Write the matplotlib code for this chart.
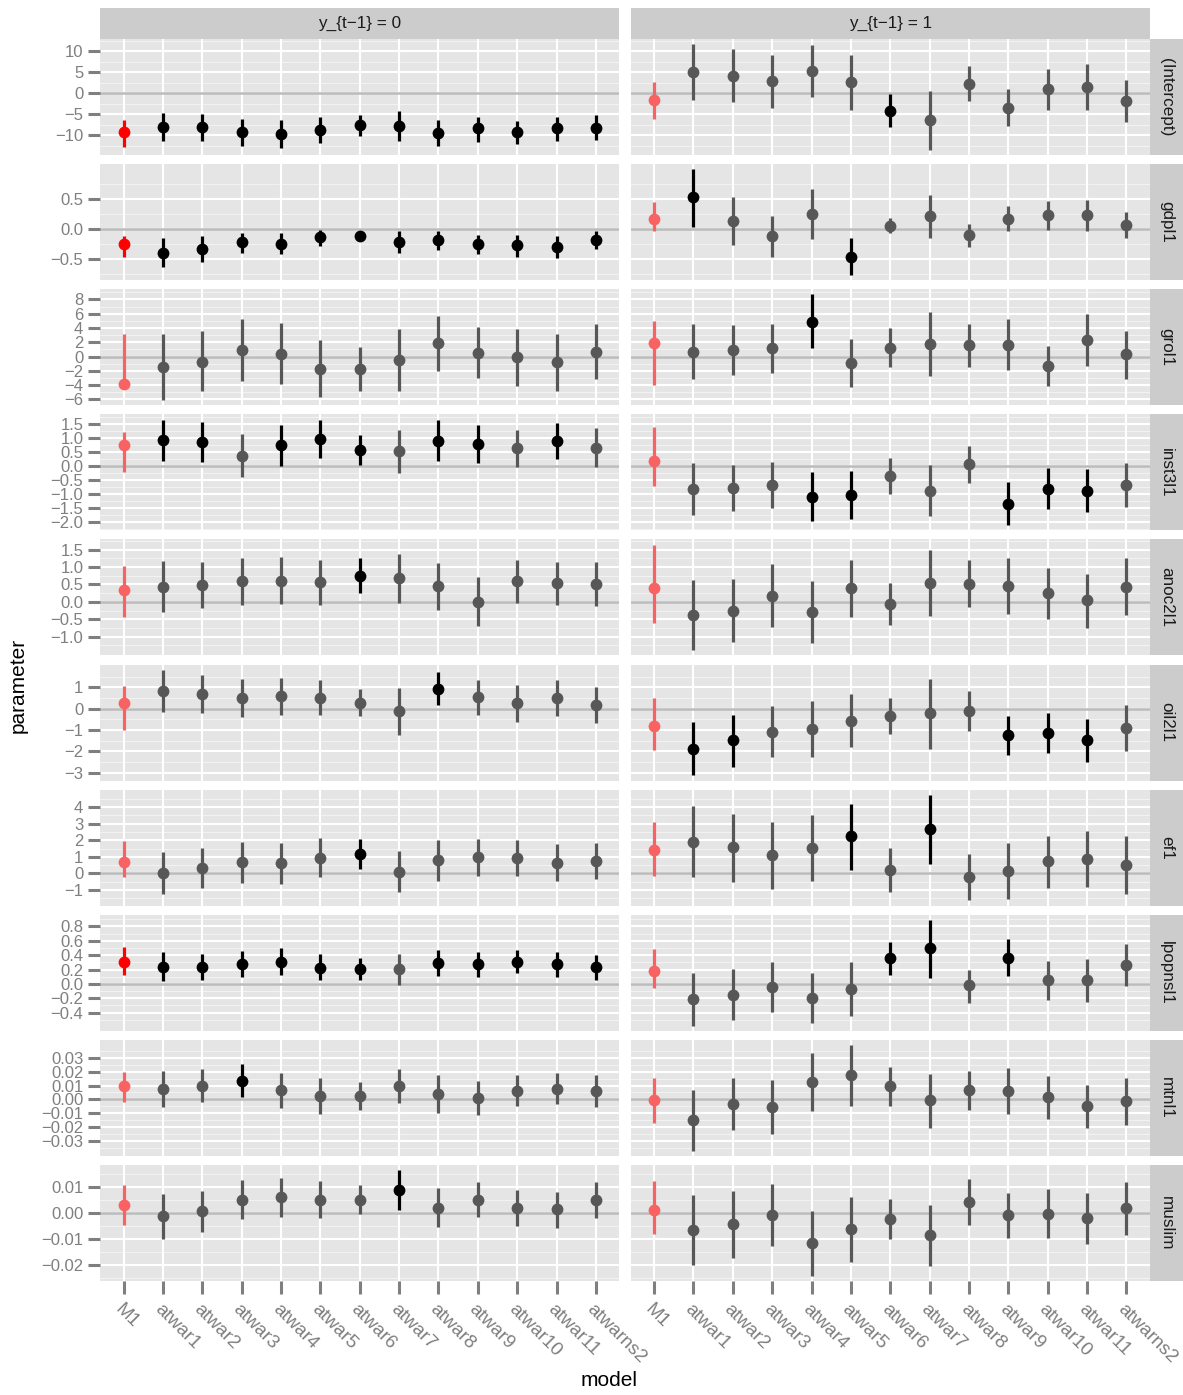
import numpy as np
import matplotlib.pyplot as plt
from matplotlib.patches import Rectangle

plt.rcParams['font.family'] = ['Liberation Sans', 'DejaVu Sans']

models = ['M1', 'atwar1', 'atwar2', 'atwar3', 'atwar4', 'atwar5', 'atwar6',
          'atwar7', 'atwar8', 'atwar9', 'atwar10', 'atwar11', 'atwarns2']
facet_labels = ['y_{t\u22121} = 0', 'y_{t\u22121} = 1']

# (Intercept)
int0_est = [-9.3, -8.1, -8.1, -9.3, -9.8, -8.7, -7.6, -7.8, -9.6, -8.4, -9.3, -8.4, -8.2]
int0_lo = [-12.8, -11.5, -11.3, -12.7, -13.0, -11.8, -10.3, -11.4, -12.7, -11.6, -12.1, -11.4, -11.2]
int0_hi = [-6.4, -4.6, -5.0, -6.2, -6.5, -5.6, -5.2, -4.3, -6.4, -5.6, -6.6, -5.6, -5.3]
int1_est = [-1.5, 5.1, 4.1, 3.0, 5.3, 2.6, -4.2, -6.5, 2.2, -3.4, 1.0, 1.5, -1.9]
int1_lo = [-6.2, -1.6, -2.1, -3.4, -1.0, -3.9, -8.1, -13.5, -1.9, -7.8, -3.9, -3.9, -6.9]
int1_hi = [2.6, 11.7, 10.5, 9.1, 11.5, 9.1, -0.2, 0.6, 6.5, 1.0, 5.9, 6.9, 3.1]

# gdpl1
gdp0_est = [-0.25, -0.39, -0.33, -0.22, -0.24, -0.13, -0.12, -0.21, -0.18, -0.25, -0.27, -0.30, -0.18]
gdp0_lo = [-0.47, -0.63, -0.54, -0.39, -0.42, -0.28, -0.19, -0.40, -0.34, -0.41, -0.46, -0.48, -0.33]
gdp0_hi = [-0.12, -0.15, -0.12, -0.06, -0.06, -0.01, -0.06, -0.03, -0.03, -0.09, -0.10, -0.12, -0.04]
gdp1_est = [0.17, 0.53, 0.14, -0.11, 0.25, -0.46, 0.05, 0.21, -0.10, 0.17, 0.23, 0.23, 0.06]
gdp1_lo = [-0.03, 0.04, -0.26, -0.47, -0.17, -0.76, -0.07, -0.14, -0.30, -0.04, -0.02, -0.03, -0.15]
gdp1_hi = [0.45, 0.99, 0.53, 0.22, 0.67, -0.15, 0.18, 0.56, 0.08, 0.38, 0.47, 0.49, 0.28]

# grol1
gro0_est = [-3.8, -1.4, -0.7, 0.85, 0.4, -1.7, -1.8, -0.5, 1.9, 0.5, -0.1, -0.8, 0.7]
gro0_lo = [-4.0, -6.1, -4.9, -3.4, -3.8, -5.7, -4.9, -4.9, -2.0, -3.0, -4.1, -4.8, -3.1]
gro0_hi = [3.1, 3.2, 3.6, 5.2, 4.7, 2.3, 1.4, 3.9, 5.7, 4.1, 3.8, 3.1, 4.6]
gro1_est = [1.9, 0.7, 0.9, 1.2, 4.9, -0.85, 1.2, 1.7, 1.6, 1.6, -1.3, 2.3, 0.3]
gro1_lo = [-4.0, -3.2, -2.6, -2.3, 1.2, -4.3, -1.5, -2.7, -1.4, -1.9, -4.1, -1.3, -3.1]
gro1_hi = [5.0, 4.6, 4.4, 4.6, 8.7, 2.5, 4.0, 6.2, 4.6, 5.2, 1.5, 5.9, 3.6]

# inst3l1
ins0_est = [0.74, 0.92, 0.84, 0.36, 0.74, 0.96, 0.56, 0.54, 0.90, 0.78, 0.65, 0.90, 0.65]
ins0_lo = [-0.22, 0.18, 0.14, -0.40, 0.01, 0.30, 0.02, -0.24, 0.18, 0.10, -0.04, 0.25, -0.04]
ins0_hi = [1.22, 1.65, 1.56, 1.14, 1.44, 1.62, 1.11, 1.29, 1.62, 1.44, 1.29, 1.52, 1.34]
ins1_est = [0.18, -0.80, -0.77, -0.67, -1.09, -1.02, -0.36, -0.87, 0.06, -1.34, -0.80, -0.87, -0.68]
ins1_lo = [-0.72, -1.74, -1.59, -1.50, -1.95, -1.88, -0.99, -1.77, -0.61, -2.10, -1.52, -1.62, -1.47]
ins1_hi = [1.38, 0.10, 0.04, 0.16, -0.22, -0.16, 0.28, 0.02, 0.72, -0.56, -0.08, -0.12, 0.10]

# anoc2l1
ano0_est = [0.34, 0.43, 0.47, 0.59, 0.60, 0.56, 0.75, 0.68, 0.44, -0.01, 0.60, 0.53, 0.52]
ano0_lo = [-0.43, -0.29, -0.19, -0.09, -0.07, -0.09, 0.26, -0.03, -0.23, -0.69, -0.03, -0.09, -0.11]
ano0_hi = [1.02, 1.17, 1.15, 1.27, 1.29, 1.21, 1.25, 1.36, 1.12, 0.70, 1.21, 1.15, 1.15]
ano1_est = [0.40, -0.38, -0.25, 0.17, -0.29, 0.39, -0.06, 0.54, 0.52, 0.45, 0.25, 0.04, 0.43]
ano1_lo = [-0.60, -1.39, -1.16, -0.73, -1.19, -0.43, -0.67, -0.41, -0.16, -0.36, -0.49, -0.75, -0.39]
ano1_hi = [1.64, 0.63, 0.65, 1.08, 0.60, 1.19, 0.54, 1.50, 1.21, 1.27, 0.98, 0.80, 1.25]

# oil2l1
oil0_est = [0.27, 0.85, 0.70, 0.49, 0.58, 0.51, 0.27, -0.13, 0.93, 0.54, 0.25, 0.49, 0.17]
oil0_lo = [-1.0, -0.14, -0.21, -0.41, -0.30, -0.30, -0.36, -1.23, 0.17, -0.28, -0.62, -0.35, -0.68]
oil0_hi = [1.06, 1.83, 1.60, 1.39, 1.45, 1.33, 0.92, 0.98, 1.72, 1.33, 1.12, 1.33, 1.04]
oil1_est = [-0.79, -1.88, -1.49, -1.08, -0.96, -0.57, -0.33, -0.22, -0.09, -1.25, -1.15, -1.49, -0.90]
oil1_lo = [-1.96, -3.13, -2.72, -2.28, -2.28, -1.80, -1.17, -1.87, -1.04, -2.18, -2.10, -2.50, -1.99]
oil1_hi = [0.51, -0.62, -0.30, 0.11, 0.36, 0.68, 0.49, 1.42, 0.85, -0.35, -0.21, -0.46, 0.16]

# ef1
ef0_est = [0.69, 0.04, 0.32, 0.69, 0.61, 0.93, 1.17, 0.12, 0.81, 0.97, 0.95, 0.65, 0.75]
ef0_lo = [-0.22, -1.25, -0.89, -0.55, -0.61, -0.24, 0.26, -1.13, -0.44, -0.14, -0.14, -0.44, -0.36]
ef0_hi = [1.96, 1.31, 1.52, 1.92, 1.82, 2.12, 2.06, 1.35, 2.00, 2.06, 2.02, 1.76, 1.82]
ef1_est = [1.43, 1.88, 1.58, 1.09, 1.52, 2.26, 0.20, 2.69, -0.22, 0.14, 0.75, 0.87, 0.51]
ef1_lo = [-0.16, -0.24, -0.51, -0.91, -0.48, 0.24, -1.11, 0.55, -1.62, -1.56, -0.85, -0.79, -1.25]
ef1_hi = [3.11, 4.04, 3.60, 3.07, 3.49, 4.18, 1.52, 4.73, 1.15, 1.82, 2.28, 2.53, 2.26]

# lpopnsl1
pop0_est = [0.31, 0.24, 0.24, 0.28, 0.31, 0.22, 0.21, 0.21, 0.29, 0.27, 0.31, 0.27, 0.24]
pop0_lo = [0.13, 0.04, 0.05, 0.09, 0.12, 0.05, 0.06, -0.01, 0.11, 0.09, 0.15, 0.10, 0.06]
pop0_hi = [0.51, 0.44, 0.42, 0.46, 0.50, 0.41, 0.36, 0.42, 0.47, 0.45, 0.47, 0.44, 0.40]
pop1_est = [0.18, -0.21, -0.15, -0.04, -0.20, -0.07, 0.36, 0.50, -0.02, 0.36, 0.06, 0.05, 0.26]
pop1_lo = [-0.06, -0.58, -0.50, -0.39, -0.55, -0.45, 0.13, 0.08, -0.27, 0.11, -0.22, -0.25, -0.03]
pop1_hi = [0.49, 0.15, 0.21, 0.31, 0.15, 0.31, 0.58, 0.89, 0.20, 0.62, 0.32, 0.35, 0.55]

# mtnl1
mtn0_est = [0.0096, 0.0073, 0.0100, 0.0135, 0.0066, 0.0024, 0.0024, 0.0098, 0.0042, 0.0010, 0.0061, 0.0078, 0.0059]
mtn0_lo = [-0.0022, -0.0056, -0.0022, 0.0015, -0.0064, -0.0105, -0.0076, -0.0027, -0.0096, -0.0113, -0.0051, -0.0032, -0.0059]
mtn0_hi = [0.0198, 0.0203, 0.0223, 0.0255, 0.0193, 0.0157, 0.0125, 0.0223, 0.0176, 0.0132, 0.0176, 0.0193, 0.0176]
mtn1_est = [-0.0005, -0.0152, -0.0034, -0.0056, 0.0125, 0.0174, 0.0096, -0.0007, 0.0066, 0.0064, 0.0015, -0.0051, -0.0015]
mtn1_lo = [-0.0174, -0.0372, -0.0223, -0.0252, -0.0088, -0.0047, -0.0047, -0.0206, -0.0078, -0.0105, -0.0144, -0.0208, -0.0186]
mtn1_hi = [0.0157, 0.0066, 0.0152, 0.0140, 0.0336, 0.0394, 0.0235, 0.0186, 0.0206, 0.0230, 0.0169, 0.0103, 0.0152]

# muslim
mus0_est = [0.0030, -0.0013, 0.0008, 0.0051, 0.0061, 0.0051, 0.0051, 0.0089, 0.0021, 0.0052, 0.0021, 0.0014, 0.0050]
mus0_lo = [-0.0046, -0.0102, -0.0072, -0.0025, -0.0014, -0.0021, -0.0005, 0.0012, -0.0056, -0.0014, -0.0050, -0.0057, -0.0020]
mus0_hi = [0.0107, 0.0072, 0.0085, 0.0128, 0.0137, 0.0124, 0.0107, 0.0166, 0.0096, 0.0119, 0.0090, 0.0083, 0.0119]
mus1_est = [0.0013, -0.0065, -0.0044, -0.0007, -0.0117, -0.0063, -0.0023, -0.0086, 0.0042, -0.0008, -0.0003, -0.0021, 0.0018]
mus1_lo = [-0.0082, -0.0202, -0.0173, -0.0128, -0.0243, -0.0189, -0.0102, -0.0205, -0.0047, -0.0098, -0.0098, -0.0119, -0.0085]
mus1_hi = [0.0124, 0.0070, 0.0085, 0.0113, 0.0007, 0.0064, 0.0053, 0.0033, 0.0130, 0.0078, 0.0093, 0.0078, 0.0121]

# y breaks per row
ticks_int = [-10, -5, 0, 5, 10]
ticks_gdp = [-0.5, 0.0, 0.5]
ticks_gro = [-6, -4, -2, 0, 2, 4, 6, 8]
ticks_ins = [-2.0, -1.5, -1.0, -0.5, 0.0, 0.5, 1.0, 1.5]
ticks_ano = [-1.0, -0.5, 0.0, 0.5, 1.0, 1.5]
ticks_oil = [-3, -2, -1, 0, 1]
ticks_ef = [-1, 0, 1, 2, 3, 4]
ticks_pop = [-0.4, -0.2, 0.0, 0.2, 0.4, 0.6, 0.8]
ticks_mtn = [-0.03, -0.02, -0.01, 0.0, 0.01, 0.02, 0.03]
ticks_mus = [-0.02, -0.01, 0.0, 0.01]

rows = [
    ('(Intercept)', (int0_est, int0_lo, int0_hi), (int1_est, int1_lo, int1_hi), ticks_int, 0),
    ('gdpl1', (gdp0_est, gdp0_lo, gdp0_hi), (gdp1_est, gdp1_lo, gdp1_hi), ticks_gdp, 1),
    ('grol1', (gro0_est, gro0_lo, gro0_hi), (gro1_est, gro1_lo, gro1_hi), ticks_gro, 0),
    ('inst3l1', (ins0_est, ins0_lo, ins0_hi), (ins1_est, ins1_lo, ins1_hi), ticks_ins, 1),
    ('anoc2l1', (ano0_est, ano0_lo, ano0_hi), (ano1_est, ano1_lo, ano1_hi), ticks_ano, 1),
    ('oil2l1', (oil0_est, oil0_lo, oil0_hi), (oil1_est, oil1_lo, oil1_hi), ticks_oil, 0),
    ('ef1', (ef0_est, ef0_lo, ef0_hi), (ef1_est, ef1_lo, ef1_hi), ticks_ef, 0),
    ('lpopnsl1', (pop0_est, pop0_lo, pop0_hi), (pop1_est, pop1_lo, pop1_hi), ticks_pop, 1),
    ('mtnl1', (mtn0_est, mtn0_lo, mtn0_hi), (mtn1_est, mtn1_lo, mtn1_hi), ticks_mtn, 2),
    ('muslim', (mus0_est, mus0_lo, mus0_hi), (mus1_est, mus1_lo, mus1_hi), ticks_mus, 2),
]

W, H = 1183, 1395
fig, axes = plt.subplots(len(rows), 2, figsize=(W / 100, H / 100), dpi=100,
                         gridspec_kw=dict(left=100 / W, right=1150 / W,
                                          top=1 - 39 / H, bottom=1 - 1281 / H,
                                          hspace=0.0776, wspace=0.0212))

x = np.arange(1, len(models) + 1)
grey_txt = '#7F7F7F'


def fmt(v, d):
    s = f'{abs(v):.{d}f}'
    return ('\u2212' + s) if v < 0 and float(s) != 0 else s


for r, (pname, f0, f1, ticks, dec) in enumerate(rows):
    lows = np.r_[f0[1], f1[1]]
    highs = np.r_[f0[2], f1[2]]
    span = highs.max() - lows.min()
    ylim = (lows.min() - 0.05 * span, highs.max() + 0.05 * span)
    step = ticks[1] - ticks[0]
    minor = np.arange(ticks[0] - step * 1.5, ticks[-1] + step * 2, step)

    for c, (est, lo, hi) in enumerate((f0, f1)):
        ax = axes[r, c]
        est, lo, hi = np.asarray(est), np.asarray(lo), np.asarray(hi)
        ax.set_facecolor('#E5E5E5')
        ax.set_xlim(0.4, len(models) + 0.6)
        ax.set_ylim(*ylim)
        for s in ax.spines.values():
            s.set_visible(False)

        for m in minor:
            if ylim[0] < m < ylim[1]:
                ax.axhline(m, color='#F2F2F2', lw=0.8, zorder=0.5)
        for t in ticks:
            ax.axhline(t, color='white', lw=1.5, zorder=0.6)
        for xi in x:
            ax.axvline(xi, color='white', lw=1.5, zorder=0.6)
        ax.axhline(0, color='#BBBBBB', lw=1.8, zorder=1)

        sig = (lo > 0) | (hi < 0)
        for i in range(len(models)):
            if i == 0:
                col = '#FF0000' if sig[i] else '#F86262'
            else:
                col = '#000000' if sig[i] else '#575757'
            ax.vlines(x[i], lo[i], hi[i], color=col, lw=2.3, zorder=2)
            ax.plot(x[i], est[i], 'o', color=col, ms=8.5, mec='none', zorder=3)

        ax.set_yticks(ticks)
        if c == 0:
            ax.set_yticklabels([fmt(t, dec) for t in ticks])
            ax.tick_params(axis='y', length=9, width=2.2, color=grey_txt,
                           labelcolor=grey_txt, labelsize=12, pad=3)
        else:
            ax.tick_params(axis='y', left=False, labelleft=False)

        ax.set_xticks(x)
        if r == len(rows) - 1:
            ax.set_xticklabels(models, rotation=-45, ha='left', va='top',
                               rotation_mode='anchor')
            ax.tick_params(axis='x', length=9.5, width=2.2, color=grey_txt,
                           labelcolor=grey_txt, labelsize=13.5, pad=5)
        else:
            ax.tick_params(axis='x', bottom=False, labelbottom=False)

        # facet strips
        if r == 0:
            sh = 31 / 116
            ax.add_patch(Rectangle((0, 1), 1, sh, transform=ax.transAxes,
                                   facecolor='#CCCCCC', edgecolor='none',
                                   clip_on=False))
            ax.text(0.5, 1 + sh / 2, facet_labels[c], transform=ax.transAxes,
                    ha='center', va='center', fontsize=12.3, color='#1A1A1A')
        if c == 1:
            sw = 33 / 519.5
            ax.add_patch(Rectangle((1, 0), sw, 1, transform=ax.transAxes,
                                   facecolor='#CCCCCC', edgecolor='none',
                                   clip_on=False))
            ax.text(1 + sw / 2, 0.5, pname, transform=ax.transAxes, rotation=-90,
                    ha='center', va='center', fontsize=12.3, color='#1A1A1A')

fig.text(609 / W, 1 - 1381 / H, 'model', ha='center', va='center', fontsize=15)
fig.text(18 / W, 1 - 685 / H, 'parameter', rotation=90, ha='center',
         va='center', fontsize=15)

fig.savefig('out.png', dpi=100, facecolor='white')
